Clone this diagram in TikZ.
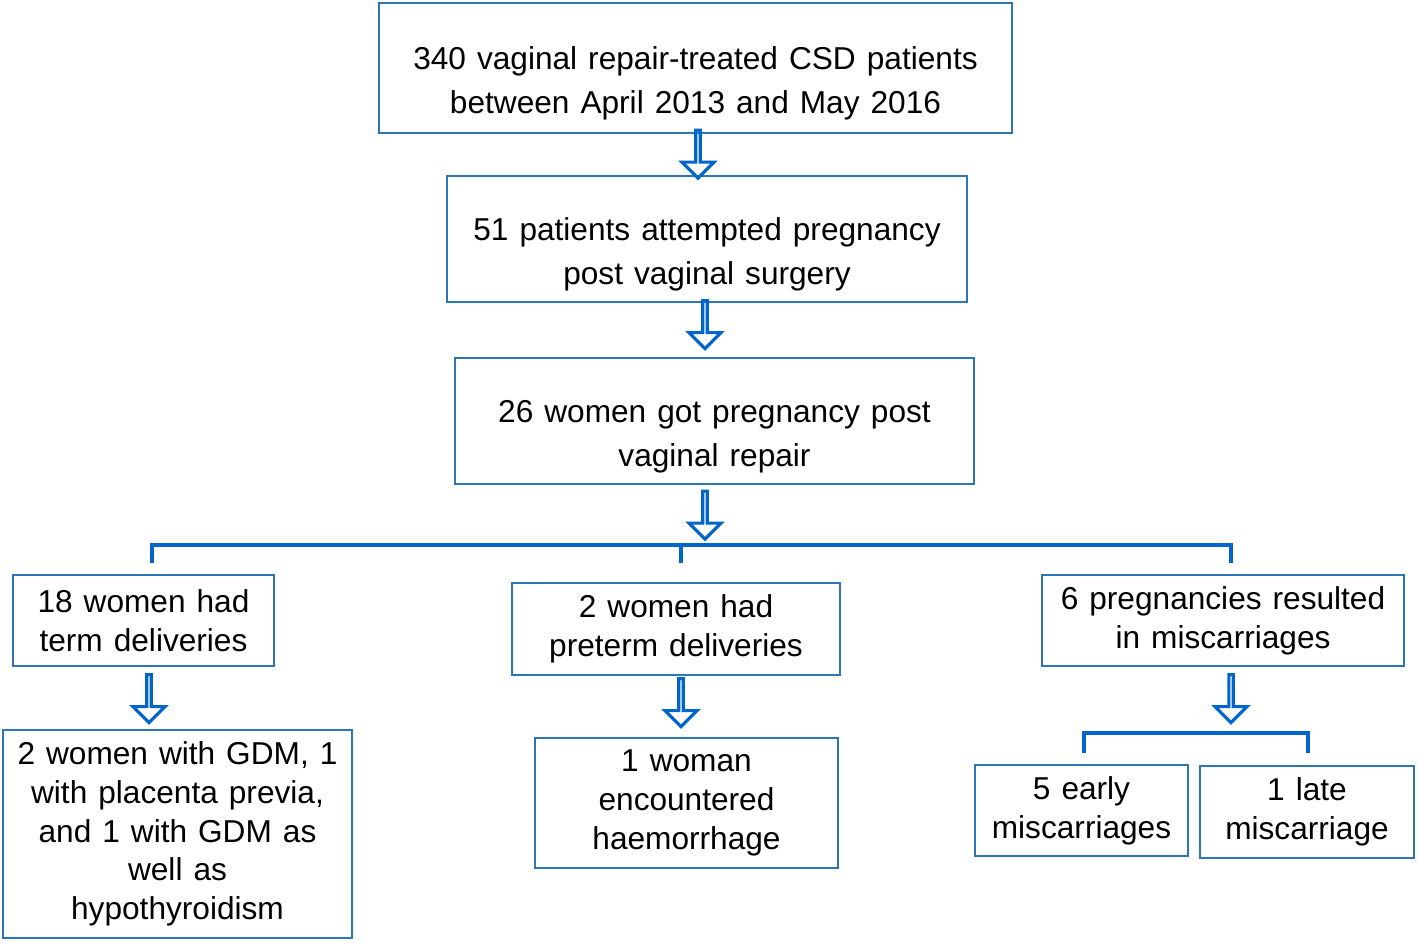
\documentclass[tikz,border=0pt]{standalone}
\usepackage{fontspec}
\setmainfont[WordSpace=1.25]{Liberation Sans}
\usetikzlibrary{shapes.arrows}
\definecolor{boxblue}{RGB}{46,117,182}
\definecolor{linkblue}{RGB}{0,102,204}

\begin{document}
\begin{tikzpicture}[box/.style={draw=boxblue, line width=0.8pt, align=center, inner sep=0pt, font=\fontsize{9}{11}\selectfont},
  topbox/.style={box, font=\fontsize{9}{12.5}\selectfont},
  down arrow/.style={single arrow, draw=linkblue, line width=0.9pt, shape border rotate=270, minimum height=0.48cm, minimum width=0.32cm, single arrow head extend=0.1cm, inner sep=0pt},
  bracket/.style={draw=linkblue, line width=1.4pt}]
\useasboundingbox (0,0) rectangle (14.18,-9.43);

% main column
\node[topbox, minimum width=6.33cm, minimum height=1.30cm] (start) at (6.955,-0.68) {\rule{0pt}{15pt}340 vaginal repair-treated CSD patients\\between April 2013 and May 2016};
\node[topbox, minimum width=5.20cm, minimum height=1.26cm] (tried) at (7.07,-2.39) {\rule{0pt}{15pt}51 patients attempted pregnancy\\post vaginal surgery};
\node[topbox, minimum width=5.19cm, minimum height=1.26cm] (preg) at (7.145,-4.21) {\rule{0pt}{15pt}26 women got pregnancy post\\vaginal repair};

% outcomes
\node[box, minimum width=2.61cm, minimum height=0.91cm] (term) at (1.435,-6.205) {18 women had\\term deliveries};
\node[box, minimum width=3.28cm, minimum height=0.92cm] (preterm) at (6.76,-6.29) {2 women had\\preterm deliveries};
\node[box, minimum width=3.62cm, minimum height=0.91cm] (miss) at (12.23,-6.205) {6 pregnancies resulted\\in miscarriages};

\node[box, minimum width=3.49cm, minimum height=2.08cm] (gdm) at (1.775,-8.34) {2 women with GDM, 1\\with placenta previa,\\and 1 with GDM as\\well as\\hypothyroidism};
\node[box, minimum width=3.03cm, minimum height=1.30cm] (haem) at (6.865,-8.03) {1 woman\\encountered\\haemorrhage};
\node[box, minimum width=2.13cm, minimum height=0.91cm] (early) at (10.815,-8.105) {5 early\\miscarriages};
\node[box, minimum width=2.14cm, minimum height=0.92cm] (late) at (13.07,-8.12) {1 late\\miscarriage};

% hollow arrows
\node[down arrow] (a1) at (6.98,-1.53) {};
\node[down arrow] (a2) at (7.05,-3.235) {};
\node[down arrow] (a3) at (7.05,-5.14) {};
\node[down arrow] (a4) at (1.49,-6.975) {};
\node[down arrow] (a5) at (6.81,-7.015) {};
\node[down arrow] (a6) at (12.31,-6.975) {};

% brackets
\coordinate (forkL) at (1.52,-5.63);
\coordinate (forkM) at (6.81,-5.63);
\coordinate (forkR) at (12.31,-5.63);
\draw[bracket] (forkL) -- ++(0,0.18) -| (forkR);
\draw[bracket] (forkM) -- ++(0,0.18);
\coordinate (subL) at (10.84,-7.53);
\coordinate (subR) at (13.08,-7.53);
\draw[bracket] (subL) -- ++(0,0.2) -| (subR);
\end{tikzpicture}
\end{document}
